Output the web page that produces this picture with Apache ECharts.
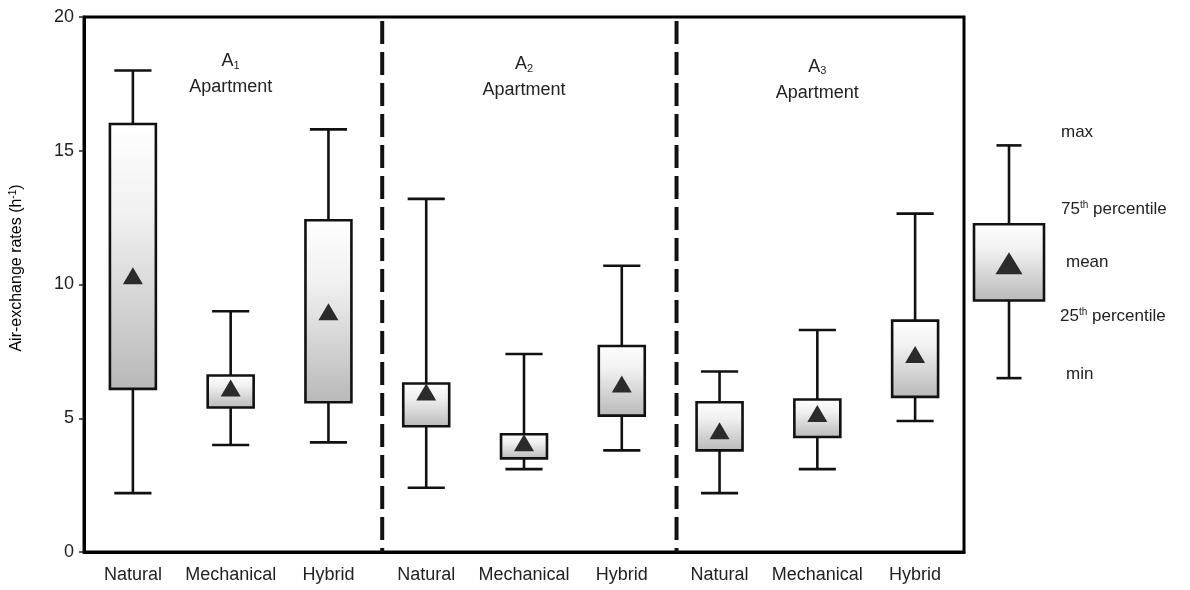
<!DOCTYPE html>
<html><head><meta charset="utf-8">
<script src="https://cdn.jsdelivr.net/npm/echarts@6/dist/echarts.min.js"></script>
<style>html,body{margin:0;padding:0;background:#fff}#c{width:1190px;height:590px}</style>
</head><body><div id="c"></div>
<script>
// ---- data ----
const categories = ['Natural','Mechanical','Hybrid','Natural','Mechanical','Hybrid','Natural','Mechanical','Hybrid'];
const minValues  = [2.2, 4.0, 4.1, 2.4, 3.1, 3.8, 2.2, 3.1, 4.9];
const q1Values   = [6.1, 5.4, 5.6, 4.7, 3.5, 5.1, 3.8, 4.3, 5.8];
const meanValues = [10.3, 6.1, 8.95, 5.95, 4.05, 6.25, 4.5, 5.15, 7.35];
const q3Values   = [16.0, 6.6, 12.4, 6.3, 4.4, 7.7, 5.6, 5.7, 8.65];
const maxValues  = [18.0, 9.0, 15.8, 13.2, 7.4, 10.7, 6.75, 8.3, 12.65];
const yTicks = [0, 5, 10, 15, 20];
const groupSubs = ['1', '2', '3'];
const groupCenters = [1, 4, 7];
const groupLabelY = [17.85, 17.75, 17.65];
const dividerPositions = [3.05, 6.06];
const legendValues = [6.5, 9.4, 10.75, 12.25, 15.2]; // min, q1, mean, q3, max
const legendLabels = ['max', '75|th| percentile', 'mean', '25|th| percentile', 'min'];

// ---- chart ----
const chart = echarts.init(document.getElementById('c'), null, {renderer: 'canvas'});
const FONT = 'Liberation Sans, Arial, sans-serif';
const gradient = () => new echarts.graphic.LinearGradient(0, 0, 0, 1, [
  {offset: 0, color: '#ffffff'}, {offset: 0.35, color: '#f0f0f0'}, {offset: 1, color: '#b8b8b8'}
]);

function drawBox(api, boxFrac, capFrac, triW, triH) {
  const i = api.value(0);
  const bw = api.size([1, 0])[0];
  const pMin = api.coord([i, api.value(1)]);
  const pQ1 = api.coord([i, api.value(2)]);
  const pMean = api.coord([i, api.value(3)]);
  const pQ3 = api.coord([i, api.value(4)]);
  const pMax = api.coord([i, api.value(5)]);
  const cx = pMin[0];
  const w = bw * boxFrac, cw = bw * capFrac;
  const ls = {stroke: '#111', lineWidth: 2.6};
  return {type: 'group', children: [
    {type: 'line', shape: {x1: cx, y1: pMin[1], x2: cx, y2: pQ1[1]}, style: ls},
    {type: 'line', shape: {x1: cx, y1: pQ3[1], x2: cx, y2: pMax[1]}, style: ls},
    {type: 'line', shape: {x1: cx - cw / 2, y1: pMin[1], x2: cx + cw / 2, y2: pMin[1]}, style: ls},
    {type: 'line', shape: {x1: cx - cw / 2, y1: pMax[1], x2: cx + cw / 2, y2: pMax[1]}, style: ls},
    {type: 'rect', shape: {x: cx - w / 2, y: pQ3[1], width: w, height: pQ1[1] - pQ3[1]},
      style: {fill: gradient(), stroke: '#111', lineWidth: 2.6}},
    {type: 'polygon', shape: {points: [
      [cx, pMean[1] - triH * 0.55], [cx - triW / 2, pMean[1] + triH * 0.45], [cx + triW / 2, pMean[1] + triH * 0.45]
    ]}, style: {fill: '#2b2b2b'}}
  ]};
}

const boxData = categories.map((c, i) => [i, minValues[i], q1Values[i], meanValues[i], q3Values[i], maxValues[i]]);
const legendData = [[0, legendValues[0], legendValues[1], legendValues[2], legendValues[3], legendValues[4]]];

const option = {
  animation: false,
  backgroundColor: '#ffffff',
  textStyle: {fontFamily: FONT},
  grid: [
    {left: 84, right: 226, top: 17, bottom: 38, show: true, borderColor: '#000', borderWidth: 3,
      containLabel: false, outerBoundsMode: 'none'},
    {left: 974, width: 70, top: 17, bottom: 38, containLabel: false, outerBoundsMode: 'none'}
  ],
  xAxis: [
    {type: 'category', gridIndex: 0, data: categories,
      axisLine: {show: true, lineStyle: {color: '#000', width: 3}},
      axisTick: {show: false},
      axisLabel: {fontSize: 18, color: '#222', margin: 14, fontFamily: FONT, interval: 0}},
    {type: 'value', gridIndex: 0, min: 0, max: 9, show: false},
    {type: 'category', gridIndex: 1, data: [''], show: false}
  ],
  yAxis: [
    {type: 'value', gridIndex: 0, min: 0, max: 20, interval: 5,
      axisLine: {show: true, lineStyle: {color: '#000', width: 3}},
      axisTick: {show: true, length: 5, lineStyle: {color: '#222', width: 1.5}},
      splitLine: {show: false},
      axisLabel: {fontSize: 18, color: '#222', margin: 10, fontFamily: FONT,
        formatter: v => yTicks.includes(v) ? String(v) : ''}},
    {type: 'value', gridIndex: 1, min: 0, max: 20, show: false}
  ],
  series: [
    {type: 'custom', xAxisIndex: 0, yAxisIndex: 0, data: boxData,
      renderItem: (params, api) => drawBox(api, 0.47, 0.38, 20, 17)},
    {type: 'custom', xAxisIndex: 2, yAxisIndex: 1, data: legendData,
      renderItem: (params, api) => drawBox(api, 1.0, 25 / 70, 27, 22)},
    {type: 'custom', xAxisIndex: 1, yAxisIndex: 0, data: dividerPositions.map(x => [x]),
      renderItem: (params, api) => {
        const b = api.coord([api.value(0), 0]);
        const t = api.coord([api.value(0), 20]);
        return {type: 'line', shape: {x1: b[0], y1: t[1] + 4, x2: b[0], y2: b[1]},
          style: {stroke: '#111', lineWidth: 4, lineDash: [23, 8]}};
      }},
    {type: 'custom', xAxisIndex: 0, yAxisIndex: 0,
      data: groupCenters.map((c, k) => [c, groupLabelY[k], k]),
      renderItem: (params, api) => {
        const p = api.coord([api.value(0), api.value(1)]);
        const k = api.value(2);
        return {type: 'text', x: p[0], y: p[1], style: {
          text: '{a|A}{s|' + groupSubs[k] + '}\n{a|Apartment}',
          align: 'center', verticalAlign: 'middle', fill: '#222',
          rich: {
            a: {fontSize: 18, fontFamily: FONT, color: '#222', lineHeight: 26, align: 'center'},
            s: {fontSize: 11, fontFamily: FONT, color: '#222', lineHeight: 26, padding: [9, 0, 0, 0]}
          }
        }};
      }}
  ],
  graphic: [
    {type: 'text', x: 17, y: 268, rotation: Math.PI / 2, style: {
      text: '{t|Air-exchange rates (h}{s|-1}{t|)}', align: 'center', verticalAlign: 'middle',
      rich: {
        t: {fontSize: 16, color: '#222', fontFamily: FONT},
        s: {fontSize: 10, color: '#222', fontFamily: FONT, padding: [0, 0, 8, 0]}
      }
    }}
  ].concat(legendLabels.map((lab, k) => {
    const ys = [135, 211, 265, 318, 377];
    const xs = [1061, 1061, 1066, 1060, 1066];
    const parts = lab.split('|');
    const text = parts.length > 1 ? '{n|' + parts[0] + '}{s|' + parts[1] + '}{n|' + parts[2] + '}' : '{n|' + lab + '}';
    return {type: 'text', left: xs[k], top: ys[k] - 11, style: {
      text: text, fill: '#222',
      rich: {
        n: {fontSize: 17, fontFamily: FONT, color: '#222', lineHeight: 22},
        s: {fontSize: 10, fontFamily: FONT, color: '#222', padding: [0, 0, 8, 0]}
      }
    }};
  }))
};
chart.setOption(option);
</script>
</body></html>
